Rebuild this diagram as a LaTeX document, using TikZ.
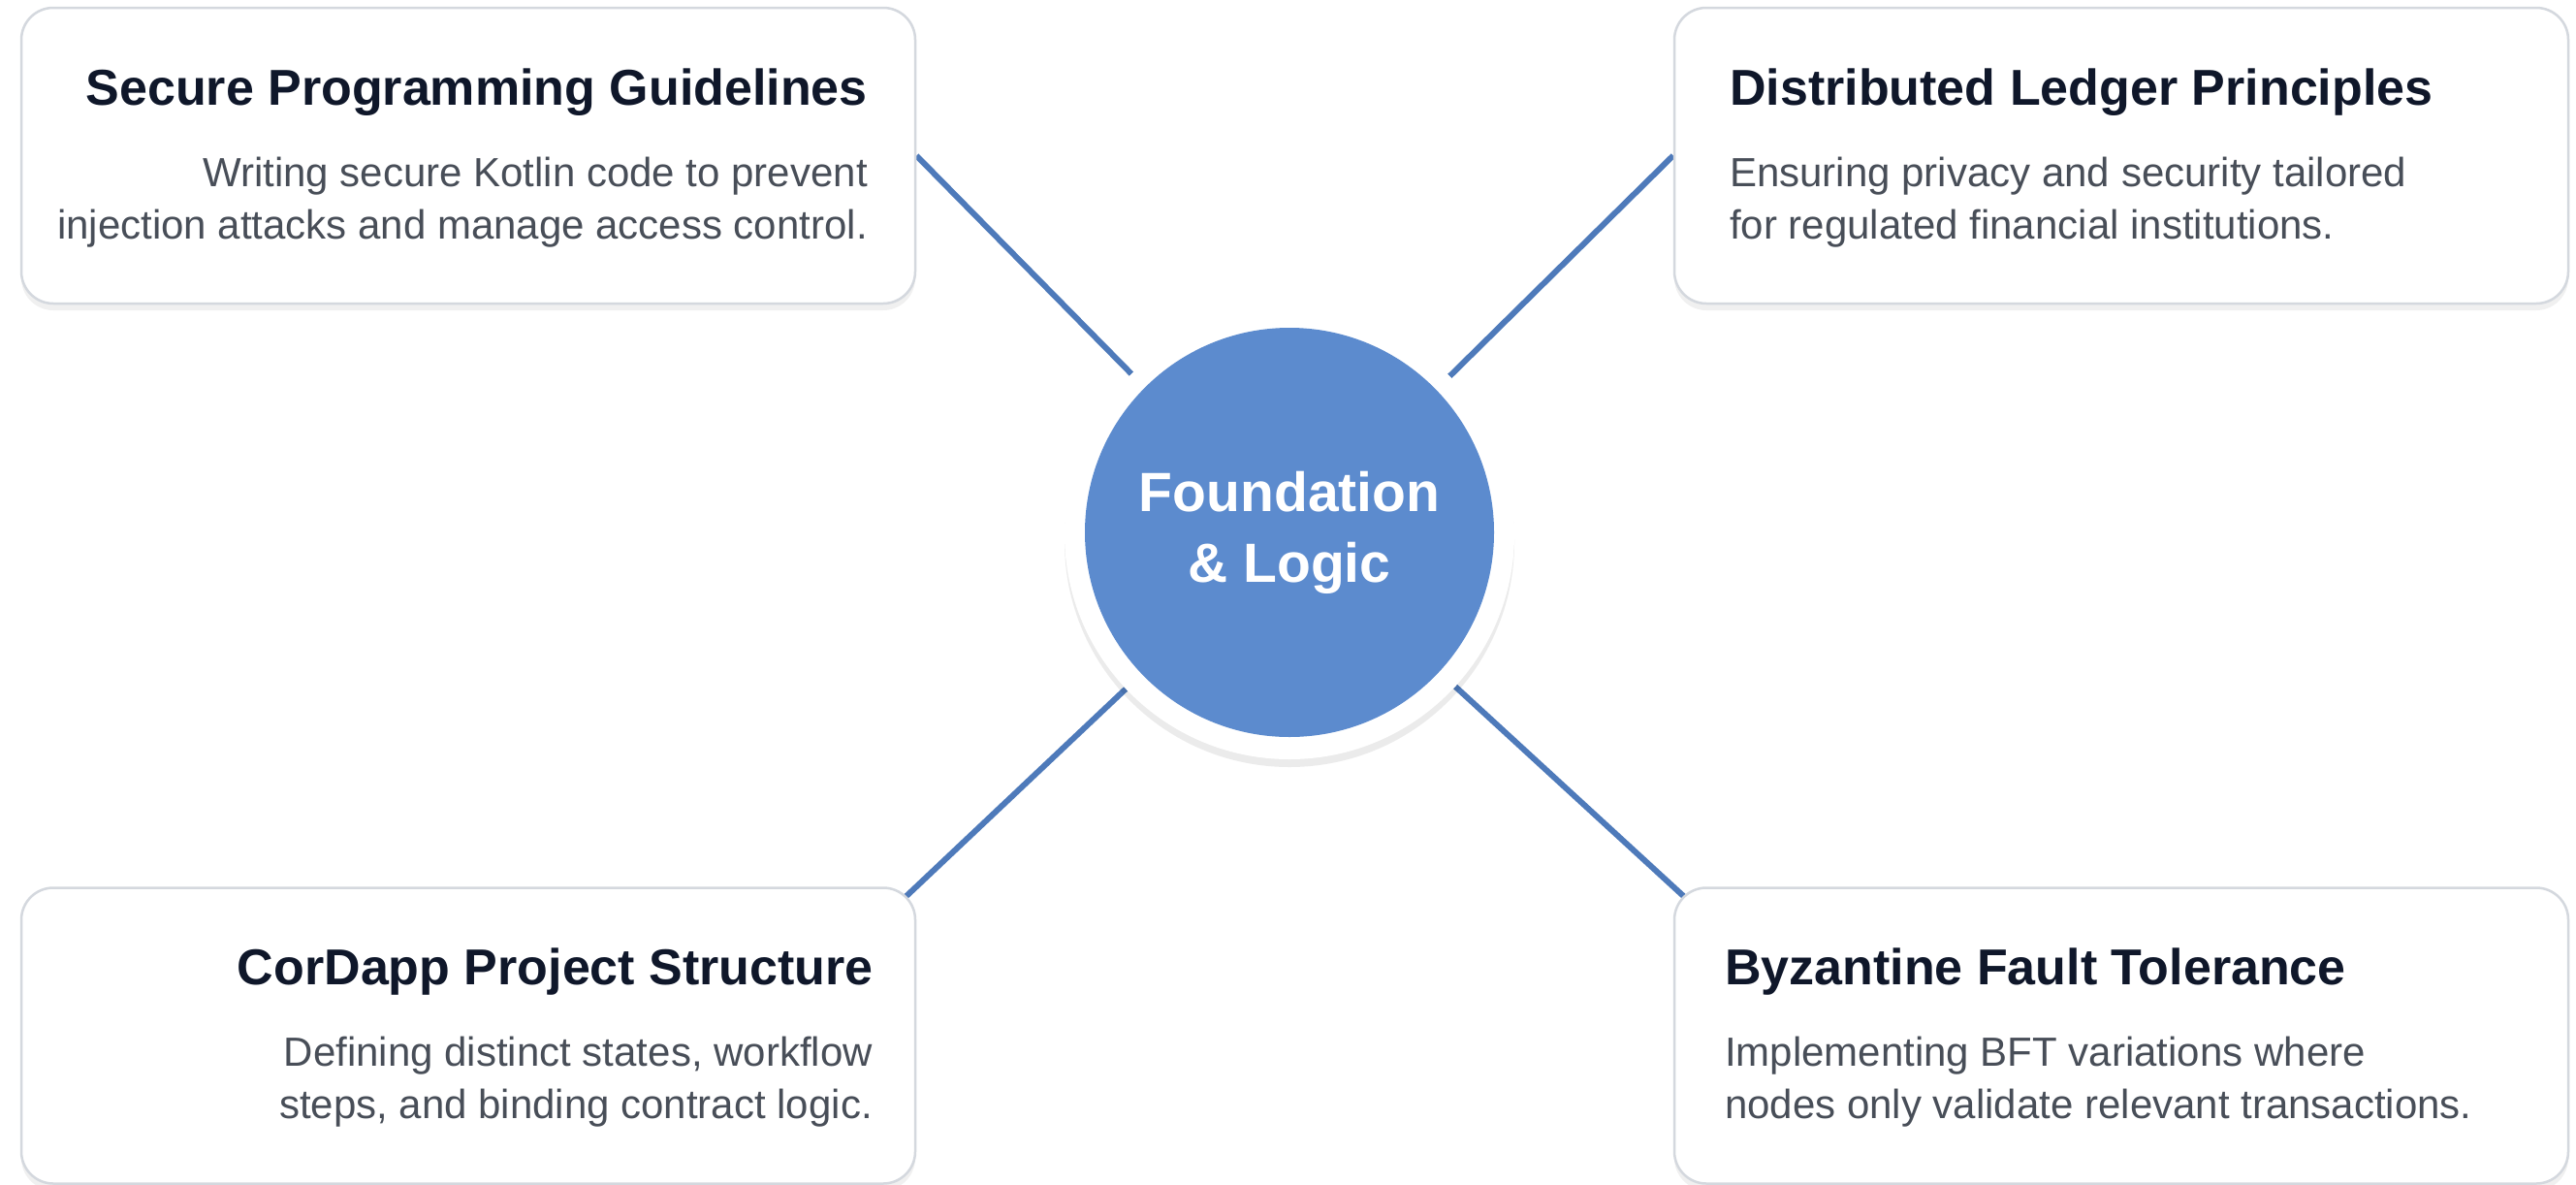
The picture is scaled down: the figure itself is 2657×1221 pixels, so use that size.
\documentclass[tikz,border=0pt]{standalone}
\usepackage{fontspec}
\setmainfont{Liberation Sans}
\usetikzlibrary{shadows,backgrounds,calc}
\definecolor{titlec}{RGB}{15,23,42}
\definecolor{descc}{RGB}{72,78,88}
\definecolor{linec}{RGB}{78,122,186}
\definecolor{corec}{RGB}{92,139,206}
\definecolor{borderc}{RGB}{212,216,222}
\tikzset{
  card/.style={draw=borderc, line width=2.5pt, fill=white, rounded corners=33pt,
    minimum width=922pt, minimum height=305pt, inner sep=0pt,
    drop shadow={fill=black, opacity=0.06, shadow xshift=0pt, shadow yshift=-7pt}},
  ttl/.style={inner sep=0pt, text=titlec, font=\fontsize{52}{62}\selectfont\bfseries},
  dsc/.style={inner sep=0pt, text=descc, font=\fontsize{42}{54}\selectfont},
  conn/.style={draw=linec, line width=6pt},
  ring/.style={circle, fill=white, minimum size=464pt, inner sep=0pt,
    drop shadow={fill=black, opacity=0.08, shadow xshift=0pt, shadow yshift=-8pt}},
  corefill/.style={circle, fill=corec, minimum size=422pt, inner sep=0pt, text=white,
    align=center, font=\fontsize{57}{73}\selectfont\bfseries}
}
\begin{document}
\begin{tikzpicture}[x=1pt,y=-1pt]
\useasboundingbox (0,0) rectangle (2657,1221);
% cards
\node[card] (tl) at (483,160.5) {};
\node[card] (tr) at (2188,160.5) {};
\node[card] (bl) at (483,1068) {};
\node[card] (br) at (2188,1068) {};
% core
\node[ring] (core) at (1330,551) {};
\node[corefill] (corein) at (1330,549) {Foundation\\\& Logic};
% connectors
\begin{scope}[on background layer]
\fill[white] (0,0) rectangle (2657,1221);
\draw[conn] (tl.east) -- (core);
\draw[conn] (tr.west) -- (core);
\draw[conn, shorten <=-18pt] (bl.north east) -- (core);
\draw[conn, shorten <=-18pt] (br.north west) -- (core);
\end{scope}
% texts TL
\node[ttl, anchor=base east] (tlt) at (895,108) {Secure Programming Guidelines};
\node[dsc, anchor=base east] (tld1) at (895,192) {Writing secure Kotlin code to prevent};
\node[dsc, anchor=base east] (tld2) at (895,246) {injection attacks and manage access control.};
% TR
\node[ttl, anchor=base west] (trt) at (1784,108) {Distributed Ledger Principles};
\node[dsc, anchor=base west] (trd1) at (1784,192) {Ensuring privacy and security tailored};
\node[dsc, anchor=base west] (trd2) at (1784,246) {for regulated financial institutions.};
% BL
\node[ttl, anchor=base east] (blt) at (901,1015) {CorDapp Project Structure};
\node[dsc, anchor=base east] (bld1) at (900,1099) {Defining distinct states, workflow};
\node[dsc, anchor=base east] (bld2) at (900,1153) {steps, and binding contract logic.};
% BR
\node[ttl, anchor=base west] (brt) at (1779,1015) {Byzantine Fault Tolerance};
\node[dsc, anchor=base west] (brd1) at (1779,1099) {Implementing BFT variations where};
\node[dsc, anchor=base west] (brd2) at (1779,1153) {nodes only validate relevant transactions.};
\end{tikzpicture}
\end{document}
